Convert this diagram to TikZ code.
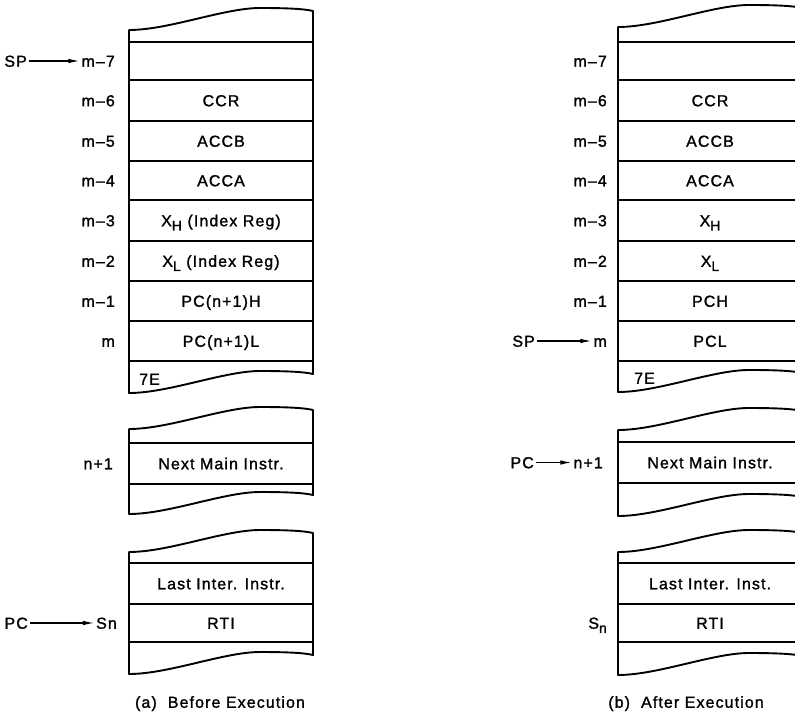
\documentclass[tikz,border=0pt]{standalone}
\usepackage{fontspec}
\setmainfont{Liberation Sans}[LetterSpace=7,FakeBold=1.4]
\usetikzlibrary{arrows.meta}
\newcommand\blockoutline[3]{%
  \begin{scope}[shift={(#1,#2)}]
    \pgfmathsetmacro\hh{#3-#2}
    \draw[boxline] (0,0) .. controls (40,0) and (95,-22) .. (131,-22)
      .. controls (160,-22) and (176,-21) .. (184,-19)
      -- (184,\hh-19)
      .. controls (176,\hh-21) and (160,\hh-22) .. (131,\hh-22)
      .. controls (95,\hh-22) and (40,\hh) .. (0,\hh) -- cycle;
  \end{scope}}
\newcommand\lowsub[1]{\raisebox{-0.5ex}{\fontsize{14}{14}\selectfont #1}}
\begin{document}
\begin{tikzpicture}[x=1bp,y=-1bp,
  boxline/.style={line width=1.9bp, line join=round},
  rowline/.style={line width=1.9bp},
  cell/.style={font=\fontsize{16}{19}\selectfont, text height=11.5bp, text depth=0bp, inner sep=0bp},
  lbl/.style={cell, anchor=east, inner sep=2bp},
  ptr/.style={line width=1.1bp, -{Latex[length=11bp,width=4.5bp]}}]
\fill[white] (0,0) rectangle (795,714);
\useasboundingbox (0,0) rectangle (795,714);
\clip (0,0) rectangle (795,714);

% ---------- (a) Before Execution ----------
\blockoutline{129}{30}{393}
\foreach \y in {42,80,121,161,200,241,281,321,361} \draw[rowline] (129,\y) -- (313,\y);
\blockoutline{129}{429}{514}
\foreach \y in {443,484} \draw[rowline] (129,\y) -- (313,\y);
\blockoutline{129}{552}{674}
\foreach \y in {563,604,642} \draw[rowline] (129,\y) -- (313,\y);

\node[cell] (aCCR) at (221,100.5) {CCR};
\node[cell] (aACCB) at (221,141) {ACCB};
\node[cell] (aACCA) at (221,180.5) {ACCA};
\node[cell] (aXH) at (221,220.5) {X\lowsub{H} (Index Reg)};
\node[cell] (aXL) at (221,261) {X\lowsub{L} (Index Reg)};
\node[cell] (aPCH) at (221,301) {PC(n+1)H};
\node[cell] (aPCL) at (221,341) {PC(n+1)L};
\node[cell, anchor=west] (a7E) at (139,379) {7E};
\node[cell] (aNext) at (221,463.5) {Next Main Instr.};
\node[cell] (aLast) at (221,583.5) {Last Inter. Instr.};
\node[cell] (aRTI) at (221,623) {RTI};

\node[lbl] (am7) at (117,61) {m–7};
\node[lbl] (am6) at (117,100.5) {m–6};
\node[lbl] (am5) at (117,141) {m–5};
\node[lbl] (am4) at (117,180.5) {m–4};
\node[lbl] (am3) at (117,220.5) {m–3};
\node[lbl] (am2) at (117,261) {m–2};
\node[lbl] (am1) at (117,301) {m–1};
\node[lbl] (am0) at (117,341) {m};
\node[lbl] (an1) at (115,463.5) {n+1};
\node[lbl] (aSn) at (119,623) {Sn};
\node[lbl] (aSP) at (29,61) {SP};
\node[lbl] (aPC) at (30,623) {PC};
\draw[ptr] (aSP) -- (am7);
\draw[ptr] (aPC) -- (aSn);
\node[cell] (acap) at (220,702) {(a)\ \ Before Execution};

% ---------- (b) After Execution ----------
\blockoutline{618}{27}{392}
\foreach \y in {42,80,121,161,200,241,281,321,361} \draw[rowline] (618,\y) -- (802,\y);
\blockoutline{618}{430}{516}
\foreach \y in {442,483} \draw[rowline] (618,\y) -- (802,\y);
\blockoutline{618}{552}{675}
\foreach \y in {563,604,642} \draw[rowline] (618,\y) -- (802,\y);

\node[cell] (bCCR) at (710,100.5) {CCR};
\node[cell] (bACCB) at (710,141) {ACCB};
\node[cell] (bACCA) at (710,180.5) {ACCA};
\node[cell] (bXH) at (710,220.5) {X\lowsub{H}};
\node[cell] (bXL) at (710,261) {X\lowsub{L}};
\node[cell] (bPCH) at (710,301) {PCH};
\node[cell] (bPCL) at (710,341) {PCL};
\node[cell, anchor=west] (b7E) at (634,378) {7E};
\node[cell] (bNext) at (710,462.5) {Next Main Instr.};
\node[cell] (bLast) at (710,583.5) {Last Inter. Inst.};
\node[cell] (bRTI) at (710,623) {RTI};

\node[lbl] (bm7) at (609,61) {m–7};
\node[lbl] (bm6) at (609,100.5) {m–6};
\node[lbl] (bm5) at (609,141) {m–5};
\node[lbl] (bm4) at (609,180.5) {m–4};
\node[lbl] (bm3) at (609,220.5) {m–3};
\node[lbl] (bm2) at (609,261) {m–2};
\node[lbl] (bm1) at (609,301) {m–1};
\node[lbl] (bm0) at (609,341) {m};
\node[lbl] (bn1) at (605,462.5) {n+1};
\node[lbl] (bSn) at (609,623) {S\lowsub{n}};
\node[lbl] (bSP) at (537,341) {SP};
\node[lbl] (bPC) at (536,462.5) {PC};
\draw[ptr] (bSP) -- (bm0);
\draw[ptr] (bPC) -- (bn1);
\node[cell] (bcap) at (686,702) {(b)\ \ After Execution};
\end{tikzpicture}
\end{document}
